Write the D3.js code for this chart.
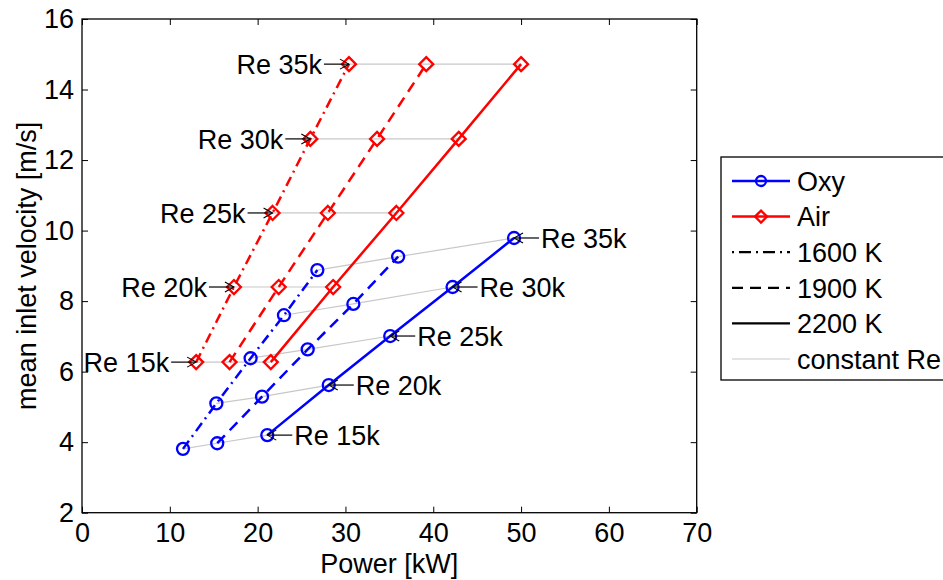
<!DOCTYPE html>
<html>
<head>
<meta charset="utf-8">
<script src="https://cdn.jsdelivr.net/npm/d3@7"></script>
<style>
  body { margin: 0; background: #fff; }
  svg text { font-family: "Liberation Sans", Arial, sans-serif; }
</style>
</head>
<body>
<div id="container"></div>
<script>
/* CONSTANTS AND GLOBALS */
const width = 943,
  height = 580,
  margin = { top: 19, right: 248, bottom: 67, left: 82 };

/* DATA */
const reLabels = ["Re 15k", "Re 20k", "Re 25k", "Re 30k", "Re 35k"];
const temps = ["1600 K", "1900 K", "2200 K"];

// Oxy: power [kW] and velocity [m/s] per temperature
const oxyPower1600 = [11.5, 15.3, 19.2, 23.0, 26.8];
const oxyVel1600 = [3.81, 5.10, 6.38, 7.60, 8.88];
const oxyPower1900 = [15.4, 20.5, 25.7, 30.9, 36.0];
const oxyVel1900 = [3.97, 5.29, 6.63, 7.92, 9.26];
const oxyPower2200 = [21.1, 28.1, 35.1, 42.2, 49.2];
const oxyVel2200 = [4.20, 5.62, 7.01, 8.40, 9.79];

// Air
const airPower1600 = [13.0, 17.3, 21.7, 26.0, 30.4];
const airPower1900 = [16.8, 22.4, 28.0, 33.6, 39.2];
const airPower2200 = [21.5, 28.6, 35.8, 42.9, 50.0];
const airVel = [6.27, 8.40, 10.50, 12.60, 14.72];

const xTicks = [0, 10, 20, 30, 40, 50, 60, 70];
const yTicks = [2, 4, 6, 8, 10, 12, 14, 16];

// build series
const zip = (p, v) => p.map((d, i) => ({ x: d, y: v[i], re: reLabels[i] }));
const series = [
  { fuel: "Oxy", temp: "1600 K", pts: zip(oxyPower1600, oxyVel1600) },
  { fuel: "Oxy", temp: "1900 K", pts: zip(oxyPower1900, oxyVel1900) },
  { fuel: "Oxy", temp: "2200 K", pts: zip(oxyPower2200, oxyVel2200) },
  { fuel: "Air", temp: "1600 K", pts: zip(airPower1600, airVel) },
  { fuel: "Air", temp: "1900 K", pts: zip(airPower1900, airVel) },
  { fuel: "Air", temp: "2200 K", pts: zip(airPower2200, airVel) }
];

const fuelColor = { Oxy: "#0000ff", Air: "#ff0000" };
const dashes = { "1600 K": "10,5,2,5", "1900 K": "11,7", "2200 K": null };
const grey = "#c8c8c8";
const fs = 27;

const svg = d3.select("#container")
  .append("svg")
  .attr("width", width)
  .attr("height", height);

/* SCALES */
const x = d3.scaleLinear().domain([0, 70]).range([margin.left, width - margin.right + 1.7]);
const y = d3.scaleLinear().domain([2, 16]).range([512.7, margin.top]);

const x0 = x.range()[0], x1 = x.range()[1], y0 = y.range()[0], y1 = y.range()[1];

/* AXES (box with inward ticks) */
svg.append("g")
  .attr("transform", `translate(0,${y0})`)
  .call(d3.axisBottom(x).tickValues(xTicks).tickSize(-6).tickPadding(10))
  .call(g => g.select(".domain").remove());
svg.append("g")
  .attr("transform", `translate(0,${y1})`)
  .call(d3.axisTop(x).tickValues(xTicks).tickSize(-6).tickFormat(""))
  .call(g => g.select(".domain").remove());
svg.append("g")
  .attr("transform", `translate(${x0},0)`)
  .call(d3.axisLeft(y).tickValues(yTicks).tickSize(-6).tickPadding(8))
  .call(g => g.select(".domain").remove());
svg.append("g")
  .attr("transform", `translate(${x1},0)`)
  .call(d3.axisRight(y).tickValues(yTicks).tickSize(-6).tickFormat(""))
  .call(g => g.select(".domain").remove());

svg.selectAll(".tick line").attr("stroke", "#000").attr("stroke-width", 1);
svg.selectAll(".tick text").attr("fill", "#000").style("font-size", fs + "px");

svg.append("rect")
  .attr("x", x0).attr("y", y1)
  .attr("width", x1 - x0).attr("height", y0 - y1)
  .attr("fill", "none").attr("stroke", "#000").attr("stroke-width", 1.3);

/* constant Re lines */
["Oxy", "Air"].forEach(fuel => {
  const fs_ = series.filter(s => s.fuel === fuel);
  reLabels.forEach((r, i) => {
    svg.append("path")
      .attr("d", d3.line().x(d => x(d.x)).y(d => y(d.y))(fs_.map(s => s.pts[i])))
      .attr("fill", "none")
      .attr("stroke", grey)
      .attr("stroke-width", 1.2);
  });
});

/* series lines + markers */
const line = d3.line().x(d => x(d.x)).y(d => y(d.y));
const diamond = (cx, cy, r) => `M${cx},${cy - r}L${cx + r},${cy}L${cx},${cy + r}L${cx - r},${cy}Z`;

series.forEach(s => {
  svg.append("path")
    .attr("d", line(s.pts))
    .attr("fill", "none")
    .attr("stroke", fuelColor[s.fuel])
    .attr("stroke-width", 2.5)
    .attr("stroke-dasharray", dashes[s.temp]);

  if (s.fuel === "Oxy") {
    svg.selectAll(null).data(s.pts).join("circle")
      .attr("cx", d => x(d.x)).attr("cy", d => y(d.y)).attr("r", 6)
      .attr("fill", "none").attr("stroke", fuelColor.Oxy).attr("stroke-width", 2.3);
  } else {
    svg.selectAll(null).data(s.pts).join("path")
      .attr("d", d => diamond(x(d.x), y(d.y), 7))
      .attr("fill", "none").attr("stroke", fuelColor.Air).attr("stroke-width", 2.3);
  }
});

/* annotations */
const arrowLen = 25;
function arrow(xh, yh, dir) {
  // dir: +1 arrow points right (tail at left), -1 points left
  const xt = xh - dir * arrowLen;
  svg.append("line")
    .attr("x1", xt).attr("y1", yh).attr("x2", xh).attr("y2", yh)
    .attr("stroke", "#000").attr("stroke-width", 1.2);
  svg.append("path")
    .attr("d", `M${xh - dir * 9},${yh - 5}L${xh},${yh}L${xh - dir * 9},${yh + 5}`)
    .attr("fill", "none").attr("stroke", "#000").attr("stroke-width", 1.1);
  return xt;
}

// Air: labels left of the 1600 K points
series.find(s => s.fuel === "Air" && s.temp === "1600 K").pts.forEach(d => {
  const xt = arrow(x(d.x), y(d.y), 1);
  svg.append("text")
    .attr("x", xt - 2).attr("y", y(d.y))
    .attr("dy", "0.36em")
    .attr("text-anchor", "end")
    .style("font-size", fs + "px")
    .text(d.re);
});

// Oxy: labels right of the 2200 K points
series.find(s => s.fuel === "Oxy" && s.temp === "2200 K").pts.forEach(d => {
  const xt = arrow(x(d.x), y(d.y), -1);
  svg.append("text")
    .attr("x", xt + 2).attr("y", y(d.y))
    .attr("dy", "0.36em")
    .style("font-size", fs + "px")
    .text(d.re);
});

/* axis labels */
svg.append("text")
  .attr("x", (x0 + x1) / 2).attr("y", 573)
  .attr("text-anchor", "middle")
  .style("font-size", fs + "px")
  .text("Power [kW]");

svg.append("text")
  .attr("transform", `translate(36,${(y0 + y1) / 2}) rotate(-90)`)
  .attr("text-anchor", "middle")
  .style("font-size", fs + "px")
  .text("mean inlet velocity [m/s]");

/* legend */
const lg = svg.append("g");
lg.append("rect")
  .attr("x", 721).attr("y", 157).attr("width", 240).attr("height", 223)
  .attr("fill", "#fff").attr("stroke", "#000").attr("stroke-width", 1.3);

const legendItems = [
  { label: "Oxy", color: fuelColor.Oxy, dash: null, w: 2.5, marker: "circle" },
  { label: "Air", color: fuelColor.Air, dash: null, w: 2.5, marker: "diamond" },
  { label: temps[0], color: "#000", dash: "2,5,12,5", w: 2.2 },
  { label: temps[1], color: "#000", dash: "11,7", w: 2.2 },
  { label: temps[2], color: "#000", dash: null, w: 2.2 },
  { label: "constant Re", color: grey, dash: null, w: 1.2 }
];
const ly = d3.scalePoint().domain(legendItems.map(d => d.label)).range([181, 359]);

legendItems.forEach(d => {
  const yy = ly(d.label);
  lg.append("line")
    .attr("x1", 732).attr("x2", 790).attr("y1", yy).attr("y2", yy)
    .attr("stroke", d.color).attr("stroke-width", d.w)
    .attr("stroke-dasharray", d.dash);
  if (d.marker === "circle") {
    lg.append("circle").attr("cx", 761).attr("cy", yy).attr("r", 5)
      .attr("fill", "none").attr("stroke", d.color).attr("stroke-width", 2.3);
  } else if (d.marker === "diamond") {
    lg.append("path").attr("d", diamond(761, yy, 6))
      .attr("fill", "none").attr("stroke", d.color).attr("stroke-width", 2.3);
  }
  lg.append("text")
    .attr("x", 797).attr("y", yy).attr("dy", "0.36em")
    .style("font-size", fs + "px")
    .text(d.label);
});
</script>
</body>
</html>
